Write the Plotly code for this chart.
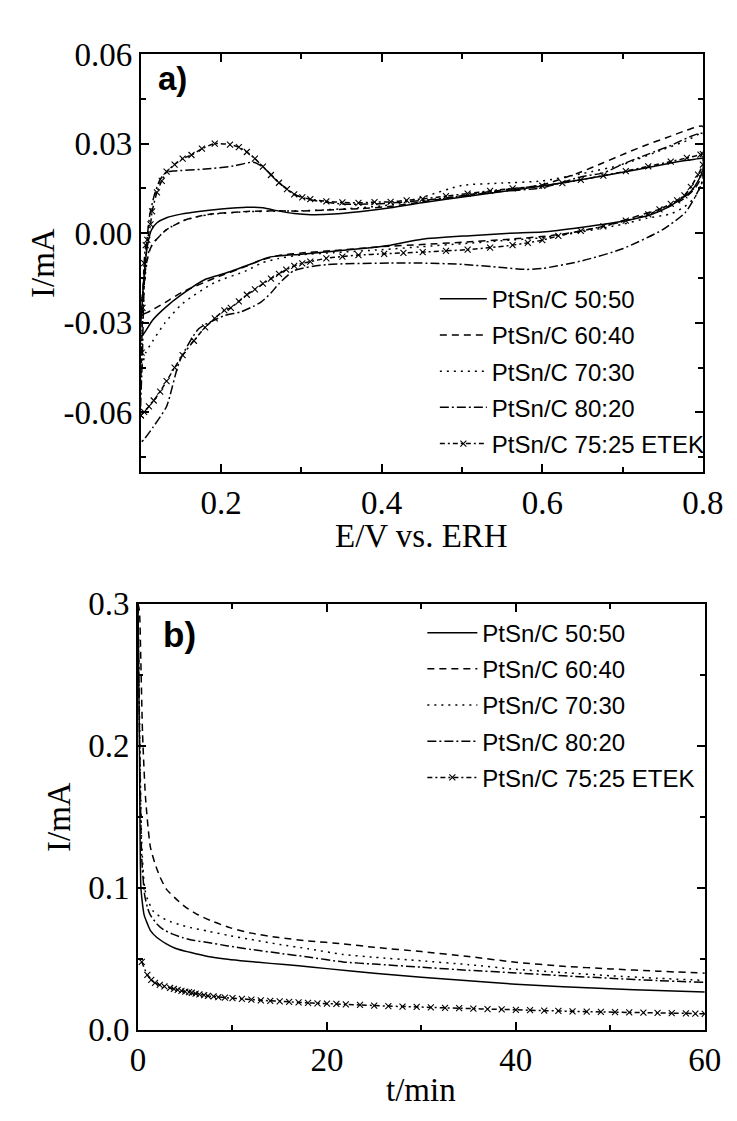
import plotly.graph_objects as go

W, H = 737, 1121

# ---------------- Panel a: cyclic voltammograms (E / V vs ERH, I / mA) -------------
labels = ["PtSn/C 50:50", "PtSn/C 60:40", "PtSn/C 70:30", "PtSn/C 80:20", "PtSn/C 75:25 ETEK"]

e_5050 = [0.100, 0.102, 0.105, 0.109, 0.113, 0.120, 0.132, 0.150, 0.172, 0.200, 0.232, 0.252, 0.272, 0.291,
          0.312, 0.340, 0.372, 0.411, 0.450, 0.510, 0.560, 0.600, 0.650, 0.700, 0.735, 0.770, 0.790, 0.800,
          0.800, 0.795, 0.785, 0.770, 0.755, 0.735, 0.700, 0.650, 0.600, 0.560, 0.510, 0.450, 0.411, 0.372,
          0.340, 0.300, 0.260, 0.240, 0.204, 0.180, 0.151, 0.130, 0.115, 0.104, 0.100]
i_5050 = [-0.0345, -0.022, -0.011, -0.003, 0.001, 0.0035, 0.0052, 0.0064, 0.0073, 0.0081, 0.0087, 0.0085, 0.0074,
          0.0066, 0.0062, 0.0064, 0.0072, 0.0085, 0.0102, 0.0125, 0.0143, 0.0158, 0.0180, 0.0204, 0.0222, 0.0240,
          0.0248, 0.0250,
          0.0215, 0.0180, 0.0140, 0.0110, 0.0085, 0.0062, 0.0040, 0.0020, 0.0004, 0.0000, -0.0008, -0.0020,
          -0.0040, -0.0052, -0.0060, -0.0070, -0.0080, -0.0100, -0.0135, -0.0155, -0.0205, -0.0250, -0.0290,
          -0.0335, -0.0345]

e_6040 = [0.100, 0.103, 0.107, 0.112, 0.118, 0.132, 0.156, 0.184, 0.232, 0.271, 0.300, 0.331, 0.371, 0.411,
          0.450, 0.510, 0.560, 0.600, 0.648, 0.676, 0.704, 0.732, 0.760, 0.780, 0.800,
          0.800, 0.790, 0.776, 0.760, 0.732, 0.676, 0.620, 0.560, 0.500, 0.450, 0.400, 0.340, 0.300, 0.271,
          0.250, 0.232, 0.192, 0.151, 0.130, 0.112, 0.104, 0.100]
i_6040 = [-0.0275, -0.018, -0.010, -0.005, -0.0025, 0.0012, 0.0045, 0.0063, 0.0073, 0.0075, 0.0074, 0.0078,
          0.0082, 0.0090, 0.0105, 0.0130, 0.0148, 0.0162, 0.0205, 0.0236, 0.0268, 0.0298, 0.0325, 0.0345, 0.0358,
          0.0200, 0.0150, 0.0115, 0.0092, 0.0069, 0.0023, -0.0005, -0.0020, -0.0030, -0.0038, -0.0045, -0.0058,
          -0.0066, -0.0075, -0.0090, -0.0110, -0.0150, -0.0198, -0.0232, -0.0260, -0.0270, -0.0275]

e_7030 = [0.100, 0.102, 0.105, 0.110, 0.116, 0.132, 0.156, 0.184, 0.232, 0.271, 0.311, 0.371, 0.411, 0.450,
          0.500, 0.550, 0.600, 0.650, 0.700, 0.750, 0.780, 0.800,
          0.800, 0.790, 0.775, 0.760, 0.730, 0.700, 0.650, 0.600, 0.550, 0.500, 0.450, 0.400, 0.340, 0.300,
          0.271, 0.250, 0.232, 0.192, 0.152, 0.130, 0.115, 0.106, 0.102, 0.100]
i_7030 = [-0.046, -0.030, -0.015, -0.006, -0.003, 0.0012, 0.0045, 0.0062, 0.0072, 0.0074, 0.0076, 0.0085,
          0.0095, 0.0120, 0.0160, 0.0168, 0.0175, 0.0200, 0.0230, 0.0280, 0.0310, 0.0335,
          0.0180, 0.0120, 0.0085, 0.0065, 0.0050, 0.0030, 0.0005, -0.0015, -0.0025, -0.0035, -0.0045, -0.0055,
          -0.0065, -0.0072, -0.0085, -0.0100, -0.0125, -0.0165, -0.0235, -0.0300, -0.0360, -0.0400, -0.0440,
          -0.0460]

e_8020 = [0.100, 0.102, 0.104, 0.107, 0.111, 0.117, 0.124, 0.132, 0.140, 0.180, 0.215, 0.240, 0.252, 0.272,
          0.291, 0.311, 0.351, 0.391, 0.430, 0.480, 0.540, 0.600, 0.650, 0.676, 0.704, 0.732, 0.760, 0.800,
          0.800, 0.790, 0.778, 0.750, 0.700, 0.650, 0.600, 0.580, 0.550, 0.500, 0.450, 0.411, 0.331, 0.291,
          0.272, 0.262, 0.250, 0.240, 0.224, 0.204, 0.172, 0.148, 0.132, 0.115, 0.104, 0.100]
i_8020 = [-0.070, -0.040, -0.018, -0.004, 0.006, 0.013, 0.018, 0.0205, 0.0208, 0.0215, 0.0225, 0.0238, 0.0222,
          0.0170, 0.0130, 0.0112, 0.0098, 0.0098, 0.0105, 0.0118, 0.0138, 0.0152, 0.0190, 0.0202, 0.0236, 0.0265,
          0.0294, 0.0334,
          0.0180, 0.0120, 0.0069, 0.0012, -0.0052, -0.0092, -0.0118, -0.0121, -0.0115, -0.0104, -0.0100, -0.0100,
          -0.0105, -0.0125, -0.0169, -0.0200, -0.0230, -0.0245, -0.0264, -0.0276, -0.0320, -0.0430, -0.0580,
          -0.0650, -0.0690, -0.0700]

e_etek = [0.100, 0.101, 0.102, 0.104, 0.106, 0.108, 0.112, 0.114, 0.120, 0.126, 0.132, 0.142, 0.152, 0.163,
          0.176, 0.192, 0.211, 0.222, 0.232, 0.242, 0.252, 0.262, 0.272, 0.282, 0.291, 0.301, 0.311, 0.331,
          0.351, 0.371, 0.391, 0.411, 0.431, 0.451, 0.480, 0.507, 0.535, 0.563, 0.600, 0.625, 0.648, 0.676,
          0.704, 0.732, 0.760, 0.780, 0.797, 0.800,
          0.800, 0.794, 0.785, 0.777, 0.768, 0.760, 0.746, 0.732, 0.704, 0.676, 0.648, 0.620, 0.600, 0.582,
          0.563, 0.535, 0.507, 0.480, 0.451, 0.427, 0.403, 0.371, 0.351, 0.331, 0.311, 0.301, 0.291, 0.281,
          0.272, 0.262, 0.252, 0.242, 0.232, 0.222, 0.212, 0.204, 0.192, 0.180, 0.166, 0.152, 0.142, 0.132,
          0.124, 0.116, 0.110, 0.104, 0.100]
i_etek = [-0.061, -0.040, -0.025, -0.010, -0.004, -0.0022, 0.0030, 0.0073, 0.0137, 0.0175, 0.0206, 0.0230,
          0.0250, 0.0262, 0.0283, 0.0300, 0.0297, 0.0288, 0.0272, 0.0250, 0.0223, 0.0195, 0.0169, 0.0148, 0.0130,
          0.0120, 0.0114, 0.0107, 0.0103, 0.0102, 0.0104, 0.0105, 0.0110, 0.0115, 0.0124, 0.0133, 0.0142, 0.0150,
          0.0159, 0.0168, 0.0179, 0.0193, 0.0208, 0.0224, 0.0240, 0.0252, 0.0263, 0.0265,
          0.0230, 0.0196, 0.0155, 0.0127, 0.0110, 0.0098, 0.0080, 0.0063, 0.0042, 0.0023, 0.0008, -0.0009,
          -0.0023, -0.0032, -0.0040, -0.0048, -0.0055, -0.0059, -0.0063, -0.0066, -0.0069, -0.0073, -0.0078,
          -0.0084, -0.0095, -0.0101, -0.0109, -0.0122, -0.0136, -0.0152, -0.0169, -0.0188, -0.0206, -0.0228,
          -0.0250, -0.0258, -0.0285, -0.0315, -0.0360, -0.0408, -0.0450, -0.0495, -0.0530, -0.0560, -0.0580,
          -0.0598, -0.0610]

# ---------------- Panel b: chronoamperometry (t / min, I / mA) -----------------------
t_5050 = [0.0, 0.15, 0.3, 0.45, 0.64, 1.0, 1.3, 2.0, 3.0, 4.0, 5.5, 7.4, 9.5, 11.5, 14, 17, 20, 25, 30, 35, 40,
          45, 50, 55, 60]
j_5050 = [0.300, 0.200, 0.101, 0.090, 0.081, 0.0745, 0.070, 0.0649, 0.0605, 0.0572, 0.0545, 0.0516, 0.0496,
          0.0482, 0.0467, 0.0450, 0.0430, 0.0398, 0.0370, 0.0345, 0.0320, 0.0302, 0.0288, 0.0276, 0.0266]

t_6040 = [0.0, 0.15, 0.3, 0.48, 0.8, 1.3, 1.8, 2.3, 3.0, 4.0, 5.0, 6.4, 8.0, 9.8, 12, 14.9, 18, 21.7, 25, 30, 35,
          40, 45, 50, 55, 60]
j_6040 = [0.300, 0.295, 0.260, 0.209, 0.163, 0.129, 0.117, 0.108, 0.099, 0.0923, 0.0865, 0.0808, 0.0760, 0.0717,
          0.0680, 0.0649, 0.0625, 0.0605, 0.0580, 0.0550, 0.0515, 0.0475, 0.0447, 0.0428, 0.0412, 0.0398]

t_7030 = [0.0, 0.2, 0.4, 0.7, 1.0, 1.66, 2.5, 3.4, 4.5, 5.7, 7.4, 9.5, 12, 15, 18, 21.7, 25, 30, 35, 40, 45, 50,
          55, 60]
j_7030 = [0.300, 0.200, 0.130, 0.100, 0.092, 0.083, 0.079, 0.0762, 0.0738, 0.0717, 0.0694, 0.0665, 0.0635,
          0.0600, 0.0570, 0.0530, 0.0510, 0.0485, 0.0458, 0.0425, 0.0402, 0.0380, 0.0362, 0.0347]

t_8020 = [0.0, 0.2, 0.4, 0.7, 1.0, 1.3, 2.0, 2.7, 3.6, 4.7, 6.0, 7.4, 9.5, 12, 15, 18, 21.7, 25, 30, 35, 40, 45,
          50, 55, 60]
j_8020 = [0.300, 0.190, 0.120, 0.095, 0.086, 0.0808, 0.0745, 0.0705, 0.0675, 0.0649, 0.0628, 0.0614, 0.0590,
          0.0565, 0.0538, 0.0512, 0.0477, 0.0462, 0.0440, 0.0418, 0.0400, 0.0380, 0.0362, 0.0346, 0.0333]

t_etek = [0.4, 0.99, 1.4, 1.8, 2.3, 2.8, 3.4, 3.8, 4.2, 4.6, 5.0, 5.4, 5.7, 6.1, 6.5, 7.0, 7.4, 8.0, 8.5, 9.2,
          10, 11, 12, 13, 14, 15, 16, 17, 18, 19, 20, 21, 22, 23.5, 25, 26.5, 28, 29.5, 31, 32.5,
          34, 35.5, 37, 38.5, 40, 41.5, 43, 44.5, 46, 47.5, 49, 50.5, 52, 53.5, 55, 56.5, 58, 59, 60]
j_etek = [0.0477, 0.0386, 0.0350, 0.0330, 0.0315, 0.0305, 0.0295, 0.0288, 0.0280, 0.0274,
          0.0268, 0.0264, 0.0260, 0.0254, 0.0248, 0.0243, 0.0238, 0.0234, 0.0230, 0.0226,
          0.0222, 0.0217, 0.0212, 0.0207, 0.0203, 0.0200, 0.0196, 0.0192, 0.0189, 0.0186,
          0.0183, 0.0181, 0.0178, 0.0174, 0.0170, 0.0166, 0.0163, 0.0160, 0.0157, 0.0154,
          0.0151, 0.0148, 0.0145, 0.0143, 0.0140, 0.0137, 0.0134, 0.0132, 0.0129, 0.0127,
          0.0125, 0.0123, 0.0121, 0.0120, 0.0118, 0.0116, 0.0115, 0.0113, 0.0112]

# ---------------- Axis ticks ---------------------------------------------------------
a_xticks = [0.2, 0.4, 0.6, 0.8]
a_xticktext = ["0.2", "0.4", "0.6", "0.8"]
a_yticks = [-0.06, -0.03, 0.0, 0.03, 0.06]
a_yticktext = ["-0.06", "-0.03", "0.00", "0.03", "0.06"]
b_xticks = [0, 20, 40, 60]
b_xticktext = ["0", "20", "40", "60"]
b_yticks = [0.0, 0.1, 0.2, 0.3]
b_yticktext = ["0.0", "0.1", "0.2", "0.3"]

# ---------------- Styling ------------------------------------------------------------
dashes = ["solid", "7px,5px", "2px,5px", "9px,3px,2px,3px", "5px,3px,2px,3px"]
SERIF = "Liberation Serif, Times New Roman, serif"
SANS = "Liberation Sans, Arial, sans-serif"

fig = go.Figure()

cv = [(e_5050, i_5050), (e_6040, i_6040), (e_7030, i_7030), (e_8020, i_8020), (e_etek, i_etek)]
ca = [(t_5050, j_5050), (t_6040, j_6040), (t_7030, j_7030), (t_8020, j_8020), (t_etek, j_etek)]

for panel, data, xa, ya, lg in [("a", cv, "x", "y", "legend"), ("b", ca, "x2", "y2", "legend2")]:
    for k, (xs, ys) in enumerate(data):
        etek = k == 4
        fig.add_trace(go.Scatter(
            x=xs, y=ys, name=labels[k], xaxis=xa, yaxis=ya, legend=lg,
            legendgroup=f"{panel}{k}",
            mode="lines+markers" if etek else "lines",
            line=dict(color="black", width=1.5, dash=dashes[k], shape="spline", smoothing=0.6),
            marker=dict(symbol="x-thin", size=6, line=dict(color="black", width=1.1)) if etek else None,
        ))

axis_common = dict(
    showline=True, linecolor="black", linewidth=2, mirror="ticks",
    ticks="inside", ticklen=8, tickwidth=1.5, tickcolor="black",
    showgrid=False, zeroline=False,
    tickfont=dict(family=SERIF, size=33, color="black"),
)
minor_common = dict(ticks="inside", ticklen=5, tickwidth=1.5, tickcolor="black")

legend_common = dict(xanchor="left", yanchor="top", bgcolor="rgba(0,0,0,0)",
                     font=dict(family=SANS, size=24, color="black"), tracegroupgap=2)

fig.update_layout(
    width=W, height=H,
    margin=dict(l=0, r=0, t=0, b=0),
    paper_bgcolor="white", plot_bgcolor="white",
    xaxis=dict(domain=[130 / W, 715 / W], range=[0.1, 0.8], anchor="y",
               tickmode="array", tickvals=a_xticks, ticktext=a_xticktext,
               minor=dict(dtick=0.1, tick0=0.1, **minor_common), **axis_common),
    yaxis=dict(domain=[1 - 462 / H, 1 - 30 / H], range=[-0.08, 0.06], anchor="x",
               tickmode="array", tickvals=a_yticks, ticktext=a_yticktext,
               minor=dict(tickvals=[-0.075, -0.045, -0.015, 0.015, 0.045], **minor_common), **axis_common),
    xaxis2=dict(domain=[127 / W, 717 / W], range=[0, 60], anchor="y2",
                tickmode="array", tickvals=b_xticks, ticktext=b_xticktext,
                minor=dict(dtick=10, tick0=0, **minor_common), **axis_common),
    yaxis2=dict(domain=[1 - 1038 / H, 1 - 598 / H], range=[0, 0.3], anchor="x2",
                tickmode="array", tickvals=b_yticks, ticktext=b_yticktext,
                minor=dict(dtick=0.05, tick0=0, **minor_common), **axis_common),
    legend=dict(x=436 / W, y=1 - 260 / H, itemwidth=47, **legend_common),
    legend2=dict(x=423 / W, y=1 - 605 / H, itemwidth=50, **legend_common),
    showlegend=True,
)

title_font = dict(family=SERIF, size=33, color="black")
ann = [
    dict(text="I/mA", x=28 / W, y=1 - 246 / H, textangle=-90),
    dict(text="E/V vs. ERH", x=422 / W, y=1 - 528 / H, textangle=0),
    dict(text="I/mA", x=45 / W, y=1 - 818 / H, textangle=-90),
    dict(text="t/min", x=422 / W, y=1 - 1100 / H, textangle=0),
]
for a in ann:
    fig.add_annotation(xref="paper", yref="paper", showarrow=False, font=title_font,
                       xanchor="center", yanchor="middle", **a)

fig.add_annotation(xref="paper", yref="paper", x=146 / W, y=1 - 55 / H, text="<b>a)</b>", showarrow=False,
                   xanchor="left", yanchor="middle", font=dict(family=SANS, size=33, color="black"))
fig.add_annotation(xref="paper", yref="paper", x=151 / W, y=1 - 630 / H, text="<b>b)</b>", showarrow=False,
                   xanchor="left", yanchor="middle", font=dict(family=SANS, size=35, color="black"))

fig.write_html("out.html")
